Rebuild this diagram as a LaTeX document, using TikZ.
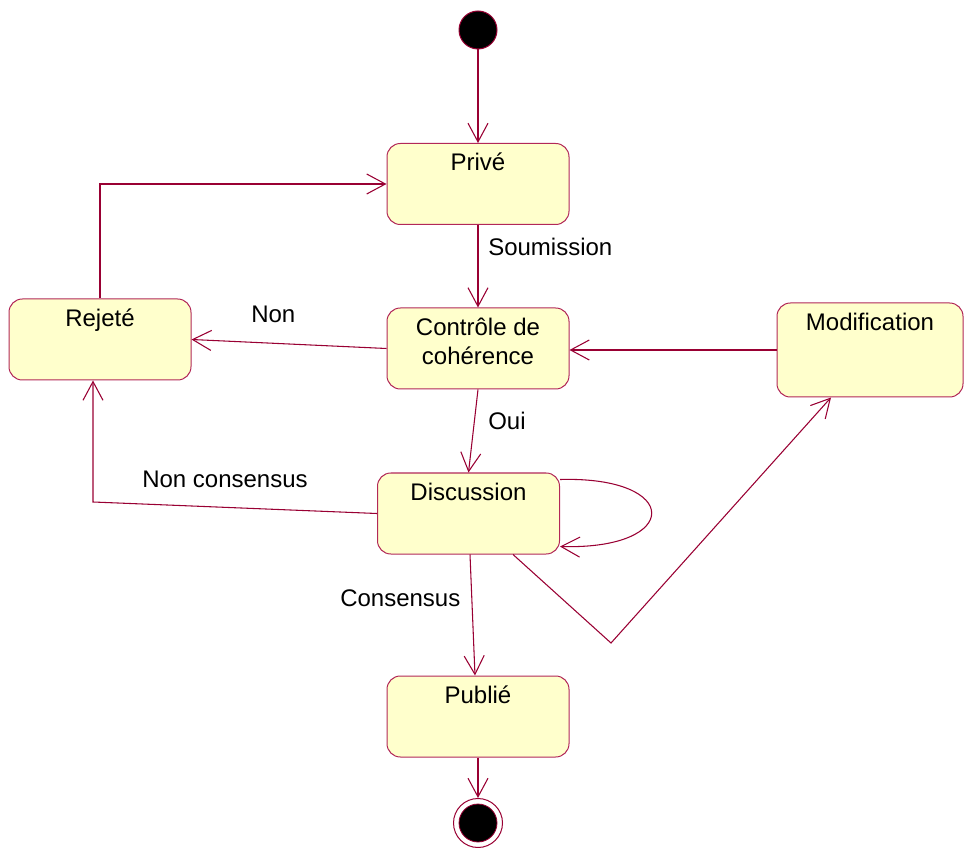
\documentclass[tikz,border=0pt]{standalone}
\usepackage{fontspec}
\setmainfont{Liberation Sans}
\usetikzlibrary{arrows.meta,calc}

\definecolor{wire}{RGB}{153,0,51}
\definecolor{stateedge}{RGB}{178,40,88}
\definecolor{statefill}{RGB}{255,255,204}

\begin{document}
\begin{tikzpicture}[x=0.75pt,y=-0.75pt,
  every node/.style={font=\fontsize{18}{21.75}\selectfont},
  statebox/.style={draw=stateedge,fill=statefill,line width=0.75pt,
    rounded corners=10pt,minimum width=136.5pt,minimum height=60.75pt,inner sep=0pt},
  stname/.style={anchor=base,yshift=-21pt,align=center},
  trans/.style={draw=wire,line width=0.8pt,
    -{Straight Barb[length=14pt,width=15pt,line width=0.8pt]}},
  tag/.style={anchor=base west,inner sep=0pt},
]
\path[use as bounding box] (0,0) rectangle (964,848);

% start and end pseudo-states
\node[circle,draw=wire,fill=black,line width=0.75pt,minimum size=28.5pt,inner sep=0pt] (init) at (478,30) {};
\node[circle,draw=wire,fill=white,line width=0.75pt,minimum size=36.75pt,inner sep=0pt,
  path picture={\fill[black,draw=wire,line width=0.6pt] (path picture bounding box.center) circle (14.25pt);}] (final) at (478,823) {};

% states
\node[statebox,label={[stname]north:Privé}] (prive) at (478,184) {};
\node[statebox,label={[stname]north:Rejeté}] (rejete) at (100,339.5) {};
\node[statebox,label={[stname,yshift=-21.75pt]north:Contrôle de\\cohérence}] (ctrl) at (478,348.5) {};
\node[statebox,minimum width=139.5pt,minimum height=70.5pt,label={[stname]north:Modification}] (modif) at (870,350) {};
\node[statebox,label={[stname]north:Discussion}] (disc) at (468.5,513.5) {};
\node[statebox,label={[stname]north:Publié}] (publie) at (478,716.5) {};

% helper points for routed transitions
\coordinate (ncCorner) at (93,502);
\coordinate (modBend) at (611,643);

% transitions
\draw[trans] (init) -- (prive.north);
\draw[trans] (prive.south) -- (ctrl.north);
\draw[trans] (ctrl.west) -- (rejete.east);
\draw[trans] (modif.west) -- (modif.west -| ctrl.east);
\draw[trans] (ctrl.south) -- (disc.north);
\draw[trans] (disc.west) -- (ncCorner) -- (ncCorner |- rejete.south);
\draw[trans] (rejete.north) -- (rejete.north |- prive.west) -- (prive.west);
\draw[trans] ($(disc.north east)+(0,7)$) .. controls (682,476) and (682,550) .. ($(disc.south east)+(0,-8)$);
\draw[trans] ($(disc.south)+(1.5,0)$) -- ($(publie.north)+(-3,0)$);
\draw[trans] ($(disc.south)+(44.5,0)$) -- (modBend) -- ($(modif.south)+(-39,0)$);
\draw[trans] (publie.south) -- (final.north);

% guard labels
\node[tag] (tSoum) at (488,256) {Soumission};
\node[tag] (tNon) at (251,323) {Non};
\node[tag] (tOui) at (488,430) {Oui};
\node[tag] (tNonC) at (142,487) {Non consensus};
\node[tag] (tCons) at (340,606) {Consensus};
\end{tikzpicture}
\end{document}
